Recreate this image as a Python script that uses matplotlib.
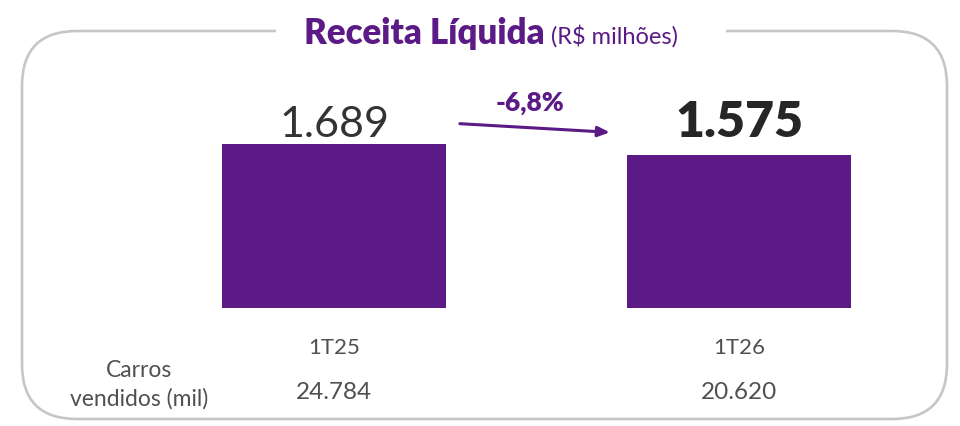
import matplotlib
matplotlib.use("Agg")
import matplotlib.pyplot as plt
from matplotlib.patches import FancyBboxPatch, Rectangle

# ---- data ----
periodos = ["1T25", "1T26"]
receita = [1689, 1575]
receita_labels = ["1.689", "1.575"]
carros = ["24.784", "20.620"]
variacao = "-6,8%"

ROXO = "#5b1a86"
CINZA_TXT = "#505050"

plt.rcParams["font.family"] = ["Lato", "DejaVu Sans"]

fig = plt.figure(figsize=(9.6, 4.27), dpi=100)
fig.patch.set_facecolor("white")

# fundo: moldura arredondada em pixels
bg = fig.add_axes([0, 0, 1, 1])
bg.set_xlim(0, 960)
bg.set_ylim(427, 0)
bg.axis("off")
moldura = FancyBboxPatch((22, 32), 925, 388, boxstyle="round,pad=0,rounding_size=55",
                         facecolor="none", edgecolor="#c6c6c6", linewidth=1.9)
bg.add_patch(moldura)
bg.add_patch(Rectangle((276, 18), 450, 30, facecolor="white", edgecolor="none", zorder=3))

# eixo de dados
ax = fig.add_axes([0, 118 / 427, 1, 309 / 427])
ax.patch.set_alpha(0)
x = [0, 1]
ax.bar(x, receita, width=0.553, color=ROXO)
ax.set_xlim(-334 / 405, 626 / 405)
ax.set_ylim(0, 309 * 1689 / 164)
for s in ax.spines.values():
    s.set_visible(False)
ax.set_yticks([])
ax.set_xticks(x)
ax.set_xticklabels(periodos, fontsize=16, color=CINZA_TXT)
ax.tick_params(axis="x", length=0, pad=21)

# rótulos dos valores
topo = max(receita) * 1.05
ax.text(x[0], topo, receita_labels[0], ha="center", va="baseline",
        fontsize=31, color="#333333")
ax.text(x[1], topo, receita_labels[1], ha="center", va="baseline",
        fontsize=36, color="#262626", fontweight="heavy")

tr = ax.get_xaxis_transform()
# seta de variação
ax.annotate("", xy=(0.688, 0.568), xytext=(0.304, 0.597), xycoords=tr, textcoords=tr,
            arrowprops=dict(arrowstyle="-|>,head_length=0.7,head_width=0.3",
                            color=ROXO, lw=2.2))
ax.text(0.484, 0.668, variacao, transform=tr, ha="center", va="center",
        fontsize=19, fontweight="heavy", color=ROXO)

# título
ax.text(0.521, 0.858, "Receita Líquida", transform=tr, ha="right", va="baseline",
        fontsize=25, fontweight="heavy", color=ROXO)
ax.text(0.536, 0.858, r"(R\$ milhões)", transform=tr, ha="left", va="baseline",
        fontsize=17, color=ROXO)

# carros vendidos
for xi, c in zip(x, carros):
    ax.text(xi, -0.269, c, transform=tr, ha="center", va="center",
            fontsize=17.5, color=CINZA_TXT)
ax.text(-0.481, -0.245, "Carros\nvendidos (mil)", transform=tr, ha="center", va="center",
        fontsize=16.5, color=CINZA_TXT, linespacing=1.4)

fig.savefig("out.png", dpi=100, facecolor="white")
